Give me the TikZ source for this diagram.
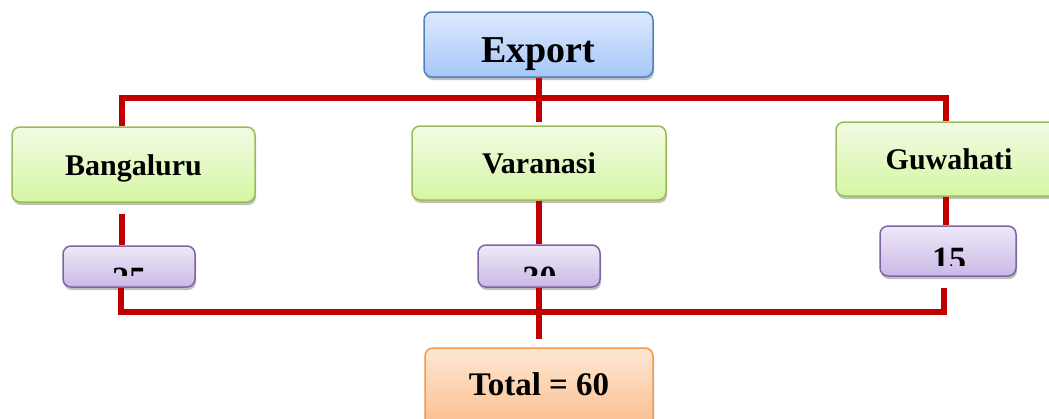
\documentclass[tikz,border=0pt]{standalone}
\usepackage{fontspec}
\setmainfont{Liberation Serif}
\usetikzlibrary{shadows}

\definecolor{barred}{HTML}{C00000}
\definecolor{bluetop}{HTML}{DDE9FC}
\definecolor{bluebot}{HTML}{A6C6F9}
\definecolor{blueline}{HTML}{4F81BD}
\definecolor{greentop}{HTML}{F2FBE4}
\definecolor{greenbot}{HTML}{D5F6A4}
\definecolor{greenline}{HTML}{9BBB59}
\definecolor{purptop}{HTML}{EFE9F8}
\definecolor{purpbot}{HTML}{C9B8E6}
\definecolor{purpline}{HTML}{8064A2}
\definecolor{orangetop}{HTML}{FEE7D4}
\definecolor{orangebot}{HTML}{FBBE8C}
\definecolor{orangeline}{HTML}{F79646}

\begin{document}
\begin{tikzpicture}[x=1pt,y=-1pt,
    box/.style={rounded corners=8pt, line width=1.5pt, inner sep=2pt, text depth=0pt,
      drop shadow={shadow xshift=1pt, shadow yshift=-3pt, opacity=.5}},
    headbox/.style={box, draw=blueline, top color=bluetop, bottom color=bluebot,
      text height=35pt, font=\bfseries\fontsize{38}{44}\selectfont},
    citybox/.style={box, draw=greenline, top color=greentop, bottom color=greenbot,
      text height=21pt, font=\bfseries\fontsize{30}{36}\selectfont},
    numbox/.style={box, draw=purpline, top color=purptop, bottom color=purpbot},
    numtext/.style={anchor=base, inner sep=0pt, font=\bfseries\fontsize{34}{40}\selectfont},
    sumbox/.style={box, draw=orangeline, top color=orangetop, bottom color=orangebot,
      text height=14pt, font=\bfseries\fontsize{33}{40}\selectfont},
    link/.style={draw=barred, line width=6pt, line join=miter}]
  \useasboundingbox (0,0) rectangle (1049,418);
  \clip (0,0) rectangle (1049,418);

  \node[headbox, minimum width=229, minimum height=65] (export) at (538.5,44.5) {Export};
  \node[citybox, minimum width=243, minimum height=75] (bang) at (133.5,164.5) {Bangaluru};
  \node[citybox, minimum width=254, minimum height=74] (var) at (539,163) {Varanasi};
  \node[citybox, minimum width=226, minimum height=74] (guw) at (949,159) {Guwahati};
  \node[numbox, minimum width=132, minimum height=41] (n25) at (129,266.5) {};
  \node[numbox, minimum width=122, minimum height=42] (n30) at (539,266) {};
  \node[numbox, minimum width=136, minimum height=50] (n15) at (948,251) {};
  \node[sumbox, minimum width=228, minimum height=80] (total) at (539,388) {Total = 60};

  % numbers, cut off as in the source
  \begin{scope}
    \clip (n25.north west) rectangle ([yshift=12pt]n25.south east);
    \node[numtext] (t25) at (129,290) {25};
  \end{scope}
  \begin{scope}
    \clip (n30.north west) rectangle ([yshift=12pt]n30.south east);
    \node[numtext] (t30) at (539.5,289) {30};
  \end{scope}
  \begin{scope}
    \clip (n15.north west) rectangle ([yshift=11pt]n15.south east);
    \node[numtext] (t15) at (949,270) {15};
  \end{scope}

  \coordinate (topL) at (122,98);
  \coordinate (topR) at (946,98);
  \coordinate (botL) at (121,312);
  \coordinate (botR) at (944,312);

  \draw[link] (export.south) -- ([yshift=3pt]export.south |- var.north);
  \draw[link] (bang.north -| topL) -- (topL) -- (topR) -- (guw.north -| topR);
  \draw[link] ([yshift=-11pt]bang.south -| topL) -- (n25.north -| topL);
  \draw[link] (var.south) -- (var.south |- n30.north);
  \draw[link] (guw.south -| topR) -- (n15.north -| topR);
  \draw[link] (n25.south -| botL) -- (botL) -- (botR) -- ([yshift=-11pt]n15.south -| botR);
  \draw[link] (n30.south) -- ([yshift=8pt]n30.south |- total.north);
\end{tikzpicture}
\end{document}
